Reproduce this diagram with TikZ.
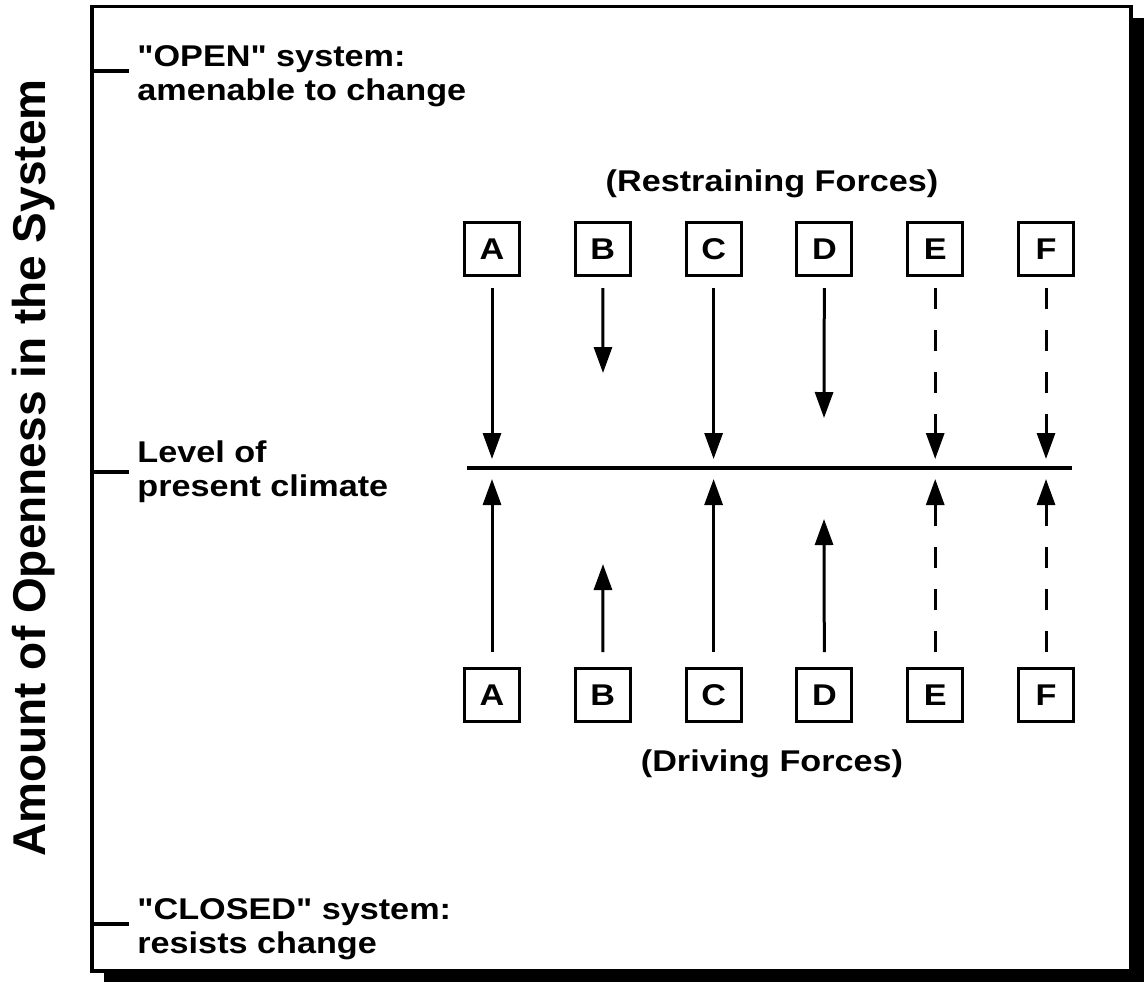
\documentclass[tikz,border=0pt]{standalone}
\usepackage{fontspec}
\newfontfamily\labelfont{Liberation Sans}[FakeStretch=1.14]
\newfontfamily\axisfont{Liberation Sans}
\usetikzlibrary{arrows.meta,positioning}
\tikzset{
    forcebox/.style={
        rectangle,
        draw=black,
        line width=1.5pt,
        minimum width=27.5pt,
        minimum height=26.5pt,
        inner sep=0pt,
        font=\labelfont\bfseries\fontsize{15}{15}\selectfont,
    },
    force/.style={
        ->,
        line width=1.5pt,
    },
    weakforce/.style={
        force,
        dash pattern=on 10.5pt off 10.5pt,
    },
    sidelabel/.style={
        anchor=west,
        align=left,
        inner sep=0pt,
        font=\labelfont\bfseries\fontsize{15}{17}\selectfont,
    },
    tick/.style={
        line width=1.6pt,
        shorten >=4pt,
    },
}

\begin{document}
\begin{tikzpicture}[x=0.5pt,y=-0.5pt,node distance=55.4pt,>={Triangle[length=13pt,width=9pt]}]
    \useasboundingbox (0,0) rectangle (1144,982);
    % frame with shadow
    \coordinate (frameNW) at (92,6.5);
    \coordinate (frameSE) at (1131,971);
    \fill (104,18) rectangle (1144,982);
    \draw[line width=1.6pt,fill=white] (frameNW) rectangle (frameSE);

    \node[rotate=90,anchor=base,inner sep=0pt,font=\axisfont\bfseries\fontsize{23}{23}\selectfont] (axis) at (45,468) {Amount of Openness in the System};

    % scale labels
    \node[sidelabel] (open) at (137,76) {"OPEN" system:\\amenable to change};
    \node[sidelabel] (level) at (137,472) {Level of\\present climate};
    \node[sidelabel] (closed) at (137,929) {"CLOSED" system:\\resists change};
    \draw[tick] ([yshift=2.5pt]open.west -| frameNW) -- ([yshift=2.5pt]open.west);
    \draw[tick] (level.west -| frameNW) -- (level.west);
    \draw[tick] ([yshift=2.5pt]closed.west -| frameNW) -- ([yshift=2.5pt]closed.west);

    % level of present climate
    \coordinate (lvlW) at (467,468);
    \coordinate (lvlE) at (1072,468);
    \draw[line width=2pt] (lvlW) -- (lvlE);

    % restraining forces
    \node[forcebox] (rA) at (492,249) {A};
    \node[forcebox] (rB) [right of=rA] {B};
    \node[forcebox] (rC) [right of=rB] {C};
    \node[forcebox] (rD) [right of=rC] {D};
    \node[forcebox] (rE) [right of=rD] {E};
    \node[forcebox] (rF) [right of=rE] {F};
    \node[font=\labelfont\bfseries\fontsize{15}{15}\selectfont] (restrain) at (772,184) {(Restraining Forces)};
    \coordinate (rBtip) at (603,373);
    \coordinate (rDtip) at (824,418);
    \draw[force,shorten <=5.5pt,shorten >=4.5pt] (rA) -- (rA |- lvlW);
    \draw[force,shorten <=5.5pt] (rB) -- (rBtip);
    \draw[force,shorten <=5.5pt,shorten >=4.5pt] (rC) -- (rC |- lvlW);
    \draw[force,shorten <=5.5pt] (rD) -- (rDtip);
    \draw[weakforce,shorten <=5.5pt,shorten >=4.5pt] (rE) -- (rE |- lvlW);
    \draw[weakforce,shorten <=5.5pt,shorten >=4.5pt] (rF) -- (rF |- lvlW);

    % driving forces
    \node[forcebox] (dA) at (492,695) {A};
    \node[forcebox] (dB) [right of=dA] {B};
    \node[forcebox] (dC) [right of=dB] {C};
    \node[forcebox] (dD) [right of=dC] {D};
    \node[forcebox] (dE) [right of=dD] {E};
    \node[forcebox] (dF) [right of=dE] {F};
    \node[font=\labelfont\bfseries\fontsize{15}{15}\selectfont] (driving) at (772,764) {(Driving Forces)};
    \coordinate (dBtip) at (603,564);
    \coordinate (dDtip) at (824,519);
    \draw[force,shorten <=7.5pt,shorten >=5.5pt] (dA) -- (dA |- lvlW);
    \draw[force,shorten <=7.5pt] (dB) -- (dBtip);
    \draw[force,shorten <=7.5pt,shorten >=5.5pt] (dC) -- (dC |- lvlW);
    \draw[force,shorten <=7.5pt] (dD) -- (dDtip);
    \draw[weakforce,shorten <=7.5pt,shorten >=5.5pt] (dE) -- (dE |- lvlW);
    \draw[weakforce,shorten <=7.5pt,shorten >=5.5pt] (dF) -- (dF |- lvlW);
\end{tikzpicture}
\end{document}
